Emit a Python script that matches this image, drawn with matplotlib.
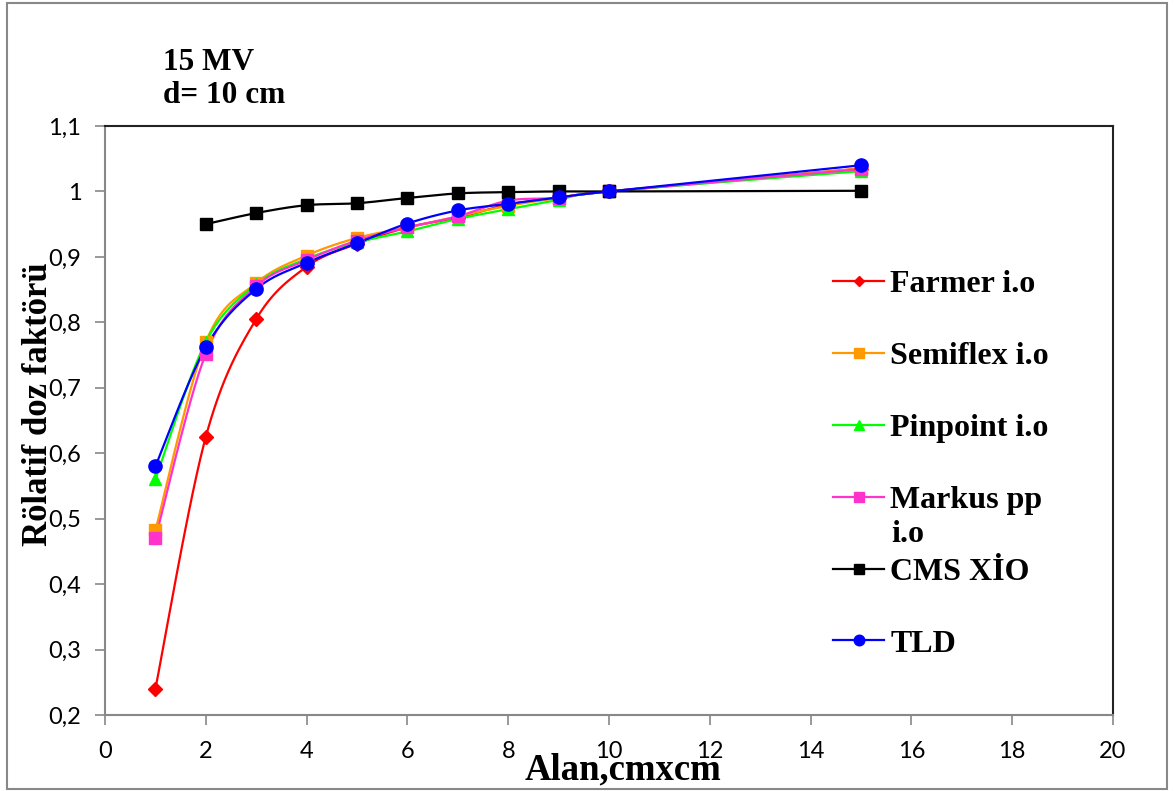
import numpy as np
import matplotlib
matplotlib.use('Agg')
import matplotlib.pyplot as plt

# Data
alan = [1, 2, 3, 4, 5, 6, 7, 8, 9, 10, 15]
farmer = [0.24, 0.625, 0.805, 0.885, 0.92, 0.945, 0.96, 0.98, 0.99, 1.0, 1.035]
semiflex = [0.482, 0.77, 0.86, 0.902, 0.929, 0.945, 0.962, 0.978, 0.99, 1.0, 1.035]
pinpoint = [0.56, 0.77, 0.858, 0.897, 0.922, 0.939, 0.958, 0.973, 0.987, 1.0, 1.031]
markus = [0.47, 0.752, 0.855, 0.895, 0.925, 0.945, 0.962, 0.986, 0.99, 1.0, 1.034]
alan_cms = [2, 3, 4, 5, 6, 7, 8, 9, 10, 15]
cms_xio = [0.95, 0.967, 0.979, 0.982, 0.99, 0.997, 0.999, 1.0, 1.0, 1.001]
tld = [0.58, 0.762, 0.851, 0.891, 0.921, 0.951, 0.971, 0.981, 0.991, 1.0, 1.04]

xticks = [0, 2, 4, 6, 8, 10, 12, 14, 16, 18, 20]
yticks = [0.2, 0.3, 0.4, 0.5, 0.6, 0.7, 0.8, 0.9, 1.0, 1.1]
ytick_labels = ['0,2', '0,3', '0,4', '0,5', '0,6', '0,7', '0,8', '0,9', '1', '1,1']


def smooth(x, y, n=30):
    # Excel style smoothed line (Catmull-Rom through the points)
    x = np.asarray(x, float)
    y = np.asarray(y, float)
    px = np.concatenate([[x[0]], x, [x[-1]]])
    py = np.concatenate([[y[0]], y, [y[-1]]])
    xs, ys = [], []
    t = np.linspace(0, 1, n)
    for i in range(1, len(px) - 2):
        x0, x1, x2, x3 = px[i - 1], px[i], px[i + 1], px[i + 2]
        y0, y1, y2, y3 = py[i - 1], py[i], py[i + 1], py[i + 2]
        cx1, cy1 = x1 + (x2 - x0) / 6, y1 + (y2 - y0) / 6
        cx2, cy2 = x2 - (x3 - x1) / 6, y2 - (y3 - y1) / 6
        bx = (1 - t) ** 3 * x1 + 3 * (1 - t) ** 2 * t * cx1 + 3 * (1 - t) * t ** 2 * cx2 + t ** 3 * x2
        by = (1 - t) ** 3 * y1 + 3 * (1 - t) ** 2 * t * cy1 + 3 * (1 - t) * t ** 2 * cy2 + t ** 3 * y2
        xs.extend(bx)
        ys.extend(by)
    return xs, ys


series = [
    (alan, farmer, 'Farmer i.o', '#FF0000', 'D', 7),
    (alan, semiflex, 'Semiflex i.o', '#FF9900', 's', 8.5),
    (alan, pinpoint, 'Pinpoint i.o', '#00FF00', '^', 9),
    (alan, markus, 'Markus pp', '#FF33CC', 's', 8.5),
    (alan_cms, cms_xio, 'CMS XİO', '#000000', 's', 8.5),
    (alan, tld, 'TLD', '#0000FF', 'o', 9.5),
]

fig = plt.figure(figsize=(11.75, 7.91), dpi=100)
ax = fig.add_axes([105 / 1175, 1 - 715 / 791, 1008 / 1175, 589 / 791])

handles = []
for xs, ys, name, col, mk, ms in series:
    sx, sy = smooth(xs, ys)
    ax.plot(sx, sy, color=col, lw=1.6, zorder=3)
    ax.plot(xs, ys, linestyle='none', marker=mk, color=col, ms=ms, zorder=4)
    h, = ax.plot([], [], color=col, lw=1.6, marker=mk, ms=ms * 0.8)
    handles.append(h)

ax.set_xlim(0, 20)
ax.set_ylim(0.2, 1.1)
ax.set_xticks(xticks)
ax.set_yticks(yticks)
ax.set_yticklabels(ytick_labels)
ax.tick_params(labelsize=17, length=7, width=1.2, color='#888888')
for lab in ax.get_xticklabels() + ax.get_yticklabels():
    lab.set_fontfamily('Lato')
ax.tick_params(axis='x', pad=12)
ax.tick_params(axis='y', pad=10)
for s in ['left', 'bottom']:
    ax.spines[s].set_color('#888888')
    ax.spines[s].set_linewidth(1.5)
for s in ['top', 'right']:
    ax.spines[s].set_color('#222222')
    ax.spines[s].set_linewidth(1.5)

serif = {'family': 'Liberation Serif', 'weight': 'bold'}
ax.set_xlabel('Alan,cmxcm', fontdict=serif, fontsize=26.5)
ax.xaxis.set_label_coords((623 - 105) / 1008, (715 - 752) / 589)
ax.set_ylabel('Rölatif doz faktörü', fontdict=serif, fontsize=25)
ax.yaxis.set_label_coords((55 - 105) / 1008, (715 - 404) / 589)

fig.text(163 / 1175, 1 - 110 / 791, '15 MV\nd= 10 cm', fontdict=serif, fontsize=22.5,
         va='bottom', ha='left', linespacing=1.2)

leg = fig.legend(handles, [s[2] for s in series], loc='upper left',
                 bbox_to_anchor=(833 / 1175, 1 - 270 / 791), frameon=False,
                 prop={'family': 'Liberation Serif', 'weight': 'bold', 'size': 23},
                 handlelength=1.6, handletextpad=0.2, labelspacing=1.33,
                 borderpad=0, borderaxespad=0)
fig.text(891 / 1175, 1 - 535 / 791, 'i.o', fontdict=serif, fontsize=23, va='center', ha='left')

# outer chart border
fig.patches.append(plt.Rectangle((7 / 1175, 2 / 791), 1160 / 1175, 786 / 791,
                                 transform=fig.transFigure, fill=False,
                                 edgecolor='#888888', lw=1.5))

fig.savefig('out.png', dpi=100)
